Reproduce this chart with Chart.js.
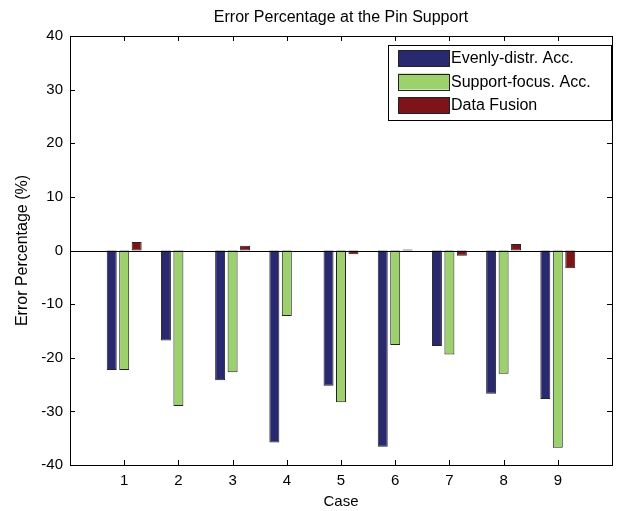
<!DOCTYPE html>
<html lang="en">
<head>
  <meta charset="UTF-8">
  <title>Error Percentage at the Pin Support</title>
  <script src="https://cdn.jsdelivr.net/npm/chart.js"></script>
  <style>
    body {
      margin: 0;
      background: #ffffff;
    }
    #wrap {
      width: 620px;
      height: 511px;
    }
  </style>
</head>
<body>
  <div id="wrap"><canvas id="errChart" width="620" height="511"></canvas></div>

<script>
// values
const cases = [1, 2, 3, 4, 5, 6, 7, 8, 9];
const evenlyDistr = [-22.3, -16.8, -24.2, -35.8, -25.2, -36.6, -17.8, -26.7, -27.7];
const supportFocus = [-22.3, -29.0, -22.7, -12.2, -28.3, -17.6, -19.4, -23.0, -36.8];
const dataFusion = [1.6, 0.0, 0.9, 0.0, -0.7, 0.2, -1.0, 1.2, -3.3];
const seriesNames = ['Evenly-distr. Acc.', 'Support-focus. Acc.', 'Data Fusion'];
const seriesColors = ['#29296f', '#9dd16d', '#7d1417'];
const chartTitle = 'Error Percentage at the Pin Support';

const FONT = "'Liberation Sans', Arial, sans-serif";

const toPoints = vals => vals.map((v, i) => ({ x: cases[i], y: v }));

// title over the plot box, frame, inward ticks and the legend box, MATLAB style
const matlabAxes = {
  id: 'matlabAxes',
  afterDatasetsDraw(chart) {
    const { ctx, chartArea: a, scales } = chart;
    ctx.save();

    ctx.fillStyle = '#000';
    ctx.font = '16px ' + FONT;
    ctx.textAlign = 'center';
    ctx.textBaseline = 'middle';
    ctx.fillText(chartTitle, (a.left + a.right) / 2, 18);
    ctx.textAlign = 'left';

    ctx.strokeStyle = '#000';
    ctx.lineWidth = 1;

    // zero baseline
    const y0 = Math.round(scales.y.getPixelForValue(0)) + 0.5;
    ctx.beginPath();
    ctx.moveTo(a.left, y0);
    ctx.lineTo(a.right, y0);
    ctx.stroke();

    // frame
    ctx.strokeRect(Math.round(a.left) + 0.5, Math.round(a.top) + 0.5,
      Math.round(a.right - a.left), Math.round(a.bottom - a.top));

    const tl = 5;
    ctx.beginPath();
    cases.forEach(c => {
      const x = Math.round(scales.x.getPixelForValue(c)) + 0.5;
      ctx.moveTo(x, a.bottom); ctx.lineTo(x, a.bottom - tl);
      ctx.moveTo(x, a.top); ctx.lineTo(x, a.top + tl);
    });
    scales.y.ticks.forEach(t => {
      const y = Math.round(scales.y.getPixelForValue(t.value)) + 0.5;
      ctx.moveTo(a.left, y); ctx.lineTo(a.left + tl, y);
      ctx.moveTo(a.right, y); ctx.lineTo(a.right - tl, y);
    });
    ctx.stroke();

    // legend
    const bx = 388.5, by = 45.5, bw = 223, bh = 75;
    ctx.fillStyle = '#fff';
    ctx.fillRect(bx, by, bw, bh);
    ctx.strokeRect(bx, by, bw, bh);
    ctx.font = '16px ' + FONT;
    chart.data.datasets.forEach((ds, i) => {
      const cy = 58 + i * 23.5;
      ctx.fillStyle = ds.backgroundColor;
      ctx.fillRect(398, cy - 8, 51, 16);
      ctx.strokeStyle = '#222';
      ctx.strokeRect(398.5, Math.round(cy - 8) + 0.5, 51, 16);
      ctx.fillStyle = '#000';
      ctx.fillText(ds.label, 451, cy + 1);
    });
    ctx.restore();
  }
};

const ctx = document.getElementById('errChart').getContext('2d');

new Chart(ctx, {
  type: 'bar',
  data: {
    datasets: [
      { label: seriesNames[0], data: toPoints(evenlyDistr), backgroundColor: seriesColors[0] },
      { label: seriesNames[1], data: toPoints(supportFocus), backgroundColor: seriesColors[1] },
      { label: seriesNames[2], data: toPoints(dataFusion), backgroundColor: seriesColors[2] }
    ]
  },
  options: {
    responsive: false,
    animation: false,
    layout: { padding: { left: 0, right: 8, top: 36, bottom: 0 } },
    datasets: {
      bar: {
        categoryPercentage: 0.69,
        barPercentage: 0.8,
        borderColor: '#222',
        borderWidth: 1,
        borderSkipped: false
      }
    },
    plugins: {
      legend: { display: false },
      tooltip: { enabled: false },
      title: { display: false }
    },
    scales: {
      x: {
        type: 'linear',
        offset: false,
        min: 0,
        max: 10,
        afterFit: s => { s.height = 46; },
        grid: { display: false, drawTicks: false },
        border: { display: false },
        ticks: {
          stepSize: 1,
          padding: 7,
          color: '#000',
          font: { family: FONT, size: 15 },
          callback: v => (v >= 1 && v <= 9) ? v : ''
        },
        title: {
          display: true,
          text: 'Case',
          color: '#000',
          font: { family: FONT, size: 15 },
          padding: { top: 0, bottom: 0 }
        }
      },
      y: {
        min: -40,
        max: 40,
        afterFit: s => { s.width = 70; },
        grid: { display: false, drawTicks: false },
        border: { display: false },
        ticks: {
          stepSize: 10,
          padding: 7,
          color: '#000',
          font: { family: FONT, size: 15 }
        },
        title: {
          display: true,
          text: 'Error Percentage (%)',
          color: '#000',
          font: { family: FONT, size: 16 },
          padding: { top: 13, bottom: 0 }
        }
      }
    }
  },
  plugins: [matlabAxes]
});
</script>
</body>
</html>
